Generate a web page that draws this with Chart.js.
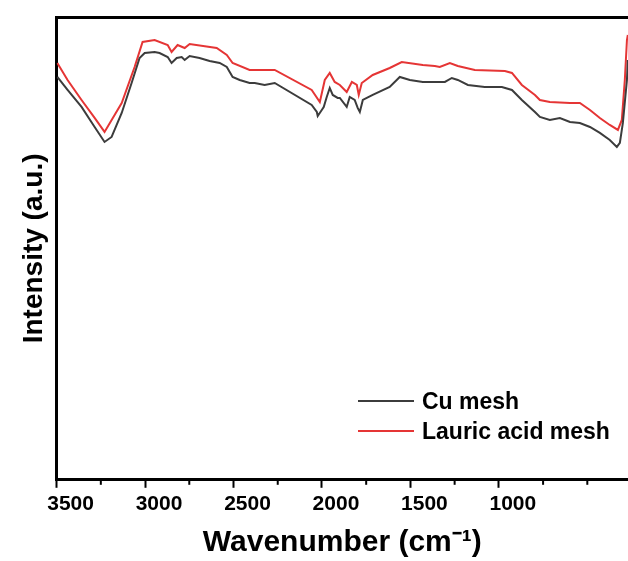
<!DOCTYPE html>
<html>
<head>
<meta charset="utf-8">
<script src="https://cdn.jsdelivr.net/npm/chart.js@4.4.1/dist/chart.umd.min.js"></script>
<style>
  html, body { margin: 0; padding: 0; background: #fff; overflow: hidden; }
  #wrap { position: relative; width: 628px; height: 561px; }
  #legend { position: absolute; left: 358px; top: 386px; font: bold 23px "Liberation Sans", Arial, sans-serif; color: #000; }
  #legend .row { display: flex; align-items: center; height: 30px; }
  #legend .swatch { width: 56px; height: 2px; margin-right: 8px; }
</style>
</head>
<body>
<div id="wrap">
  <canvas id="chart" width="628" height="561"></canvas>
  <div id="legend"></div>
</div>
<script>
// FTIR spectra (intensity in arbitrary units)
const seriesNames = ["Cu mesh", "Lauric acid mesh"];
const seriesColors = ["#3c3c3c", "#e53535"];

const cuWavenumber = [3496, 3438, 3359, 3285, 3229, 3189, 3132, 3076, 3031, 3002, 2946, 2918, 2872, 2850, 2821, 2793, 2776, 2748, 2692, 2635, 2578, 2538, 2505, 2465, 2409, 2380, 2324, 2267, 2058, 2029, 2024, 2001, 1990, 1973, 1956, 1939, 1911, 1899, 1860, 1843, 1815, 1798, 1786, 1769, 1713, 1617, 1560, 1503, 1430, 1362, 1305, 1266, 1232, 1175, 1080, 983, 926, 870, 796, 768, 712, 655, 598, 542, 485, 429, 373, 333, 316, 299, 276, 271];
const cuIntensity = [403, 390, 373, 353, 338, 343, 367, 397, 422, 427, 428, 427, 423, 417, 422, 423, 420, 424, 422, 419, 417, 413, 403, 400, 397, 397, 395, 397, 375, 368, 364, 370, 373, 383, 392, 385, 382, 382, 373, 383, 380, 372, 368, 380, 385, 393, 403, 400, 398, 398, 398, 402, 400, 395, 393, 393, 390, 380, 368, 363, 360, 362, 358, 357, 353, 347, 340, 333, 337, 357, 400, 420];

const lauricWavenumber = [3496, 3438, 3359, 3285, 3229, 3132, 3059, 3014, 2946, 2872, 2850, 2816, 2776, 2748, 2595, 2538, 2505, 2409, 2267, 2058, 2012, 1984, 1956, 1928, 1899, 1860, 1831, 1803, 1792, 1775, 1713, 1617, 1549, 1430, 1362, 1334, 1277, 1232, 1136, 966, 926, 870, 796, 768, 712, 598, 542, 485, 429, 373, 327, 305, 288, 276, 271];
const lauricIntensity = [417, 400, 380, 362, 348, 377, 413, 438, 440, 435, 428, 435, 432, 436, 432, 425, 417, 410, 410, 390, 378, 400, 407, 398, 395, 388, 398, 395, 385, 397, 405, 412, 418, 415, 414, 413, 417, 414, 410, 409, 407, 395, 385, 380, 378, 377, 377, 370, 362, 355, 350, 360, 400, 440, 445];

// labelled (major) ticks; minor ticks sit halfway between them
const tickLabels = [3500, 3000, 2500, 2000, 1500, 1000];
const minorStep = 250;

const toPoints = (xs, ys) => xs.map((x, i) => ({ x: x, y: ys[i] }));

// short minor ticks between the labelled ones
const minorTicks = {
  id: "minorTicks",
  afterDraw(chart) {
    const s = chart.scales.x;
    const ctx = chart.ctx;
    ctx.save();
    ctx.strokeStyle = "#000";
    ctx.lineWidth = 2;
    s.ticks.forEach((t) => {
      if (!tickLabels.includes(t.value)) {
        const px = s.getPixelForValue(t.value);
        ctx.beginPath();
        ctx.moveTo(px, s.top);
        ctx.lineTo(px, s.top + 5);
        ctx.stroke();
      }
    });
    ctx.restore();
  },
};

const font = "'Liberation Sans', Arial, sans-serif";

new Chart(document.getElementById("chart"), {
  type: "line",
  data: {
    datasets: [
      {
        label: seriesNames[0],
        data: toPoints(cuWavenumber, cuIntensity),
        borderColor: seriesColors[0],
        borderWidth: 2,
        pointRadius: 0,
        tension: 0,
      },
      {
        label: seriesNames[1],
        data: toPoints(lauricWavenumber, lauricIntensity),
        borderColor: seriesColors[1],
        borderWidth: 2,
        pointRadius: 0,
        tension: 0,
      },
    ],
  },
  options: {
    responsive: false,
    animation: false,
    layout: { padding: { top: 17, left: 17, right: 0, bottom: 0 } },
    plugins: { legend: { display: false }, tooltip: { enabled: false } },
    scales: {
      x: {
        type: "linear",
        reverse: true,
        min: 270,
        max: 3500,
        afterBuildTicks: (axis) => {
          const ticks = [];
          for (let v = tickLabels[0]; v >= axis.min; v -= minorStep) ticks.push({ value: v });
          axis.ticks = ticks;
        },
        border: { display: true, color: "#000", width: 3 },
        grid: {
          drawOnChartArea: false,
          drawTicks: true,
          tickLength: 8,
          tickWidth: 2,
          tickColor: (ctx) => (ctx.tick && tickLabels.includes(ctx.tick.value) ? "#000" : "rgba(0,0,0,0)"),
        },
        ticks: {
          autoSkip: false,
          maxRotation: 0,
          labelOffset: 14,
          padding: 4,
          color: "#000",
          font: { family: font, size: 21, weight: "bold" },
          callback: (v) => (tickLabels.includes(v) ? String(v) : ""),
        },
        title: {
          display: true,
          text: "Wavenumber (cm\u207B\u00B9)",
          color: "#000",
          font: { family: font, size: 30, weight: "bold" },
          padding: { top: 4, bottom: 0 },
        },
      },
      xTop: {
        type: "linear",
        position: "top",
        reverse: true,
        min: 270,
        max: 3500,
        border: { display: true, color: "#000", width: 3 },
        grid: { display: false, drawTicks: false },
        ticks: { display: false },
      },
      y: {
        min: 0,
        max: 463,
        border: { display: true, color: "#000", width: 3 },
        grid: { display: false, drawTicks: false },
        ticks: { display: false },
        title: {
          display: true,
          text: "Intensity (a.u.)",
          color: "#000",
          font: { family: font, size: 28, weight: "bold" },
          padding: { top: 0, bottom: 6 },
        },
      },
    },
  },
  plugins: [minorTicks],
});

// legend drawn inside the plot area
const legend = document.getElementById("legend");
seriesNames.forEach((name, i) => {
  const row = document.createElement("div");
  row.className = "row";
  const sw = document.createElement("span");
  sw.className = "swatch";
  sw.style.background = seriesColors[i];
  const label = document.createElement("span");
  label.textContent = name;
  row.appendChild(sw);
  row.appendChild(label);
  legend.appendChild(row);
});
</script>
</body>
</html>
